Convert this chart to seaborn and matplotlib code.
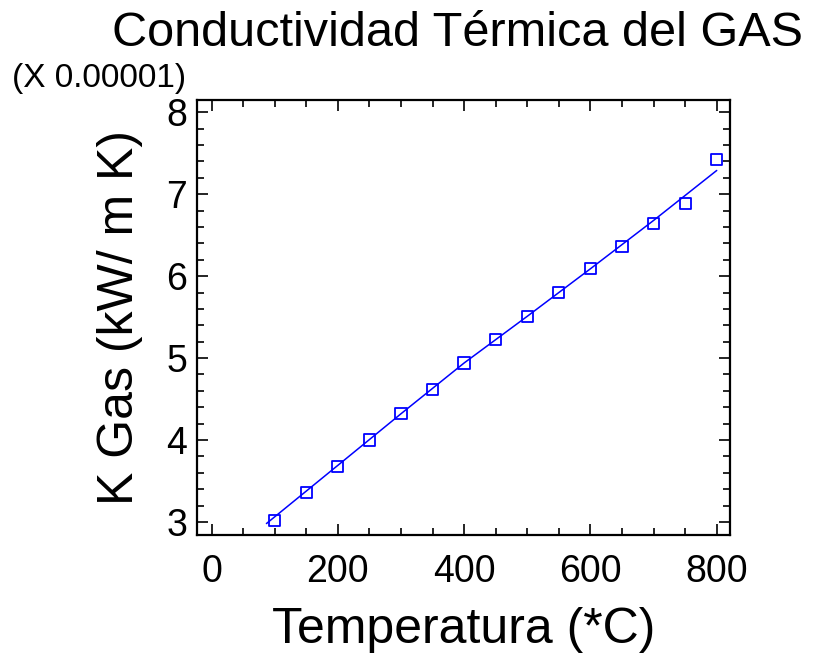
import matplotlib
matplotlib.use("Agg")
import matplotlib.pyplot as plt
from matplotlib.ticker import MultipleLocator
import seaborn as sns
import pandas as pd

# measured points (K in units of 1e-5 kW/m K)
temperatura = [100, 150, 200, 250, 300, 350, 400, 450, 500, 550, 600, 650, 700, 750, 800]
k_gas = [3.02, 3.36, 3.68, 4.00, 4.32, 4.62, 4.94, 5.23, 5.51, 5.80, 6.09, 6.36, 6.64, 6.89, 7.42]

# fitted curve as drawn
fit_x = [87, 200, 300, 400, 500, 600, 700, 800]
fit_y = [2.98, 3.69, 4.32, 4.94, 5.51, 6.09, 6.68, 7.29]

sns.set_style("ticks")
plt.rcParams['font.family'] = ['Liberation Sans', 'DejaVu Sans']
plt.rcParams['text.color'] = 'black'
plt.rcParams['axes.labelcolor'] = 'black'
plt.rcParams['xtick.color'] = 'black'
plt.rcParams['ytick.color'] = 'black'

df = pd.DataFrame({'T': temperatura, 'K': k_gas})
fit = pd.DataFrame({'T': fit_x, 'K': fit_y})

fig = plt.figure(figsize=(8.17, 6.58), dpi=100)
ax = fig.add_axes([0.2411, 0.1869, 0.6524, 0.6611])

sns.lineplot(data=fit, x='T', y='K', ax=ax, color='#0000ff', linewidth=1.1)
sns.scatterplot(data=df, x='T', y='K', ax=ax, marker='s', s=66,
                facecolor='none', edgecolor='#0000ff', linewidth=1.3, zorder=3)

ax.set_xlim(-23, 821)
ax.set_ylim(2.84, 8.15)
ax.xaxis.set_major_locator(MultipleLocator(200))
ax.xaxis.set_minor_locator(MultipleLocator(50))
ax.yaxis.set_major_locator(MultipleLocator(1))
ax.yaxis.set_minor_locator(MultipleLocator(0.2))

ax.tick_params(which='both', direction='in', top=True, right=True, width=1.2, colors='black')
ax.tick_params(which='major', length=8)
ax.tick_params(which='minor', length=5)
ax.tick_params(axis='x', which='major', labelsize=27, pad=14)
ax.tick_params(axis='y', which='major', labelsize=27, pad=7)
for sp in ax.spines.values():
    sp.set_linewidth(1.6)
    sp.set_color('black')

ax.set_xlabel('Temperatura (*C)', fontsize=36, labelpad=12)
ax.set_ylabel('K Gas (kW/ m K)', fontsize=36, labelpad=17)

fig.text(457 / 817, 1 - 33 / 658, 'Conductividad Térmica del GAS', fontsize=35,
         ha='center', va='center')
fig.text(186 / 817, 1 - 78 / 658, '(X 0.00001)', fontsize=24, ha='right', va='center')

fig.savefig('out.png', dpi=100)
